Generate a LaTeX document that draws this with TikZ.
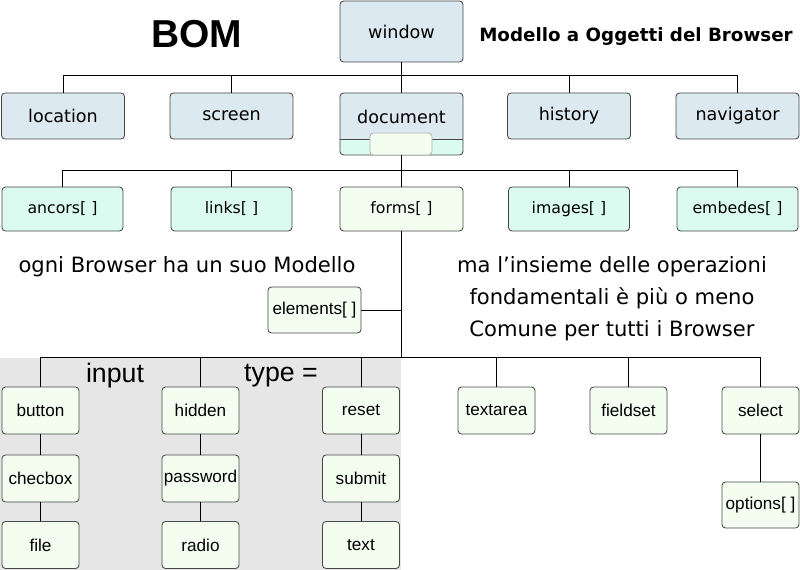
\documentclass[tikz,border=0pt]{standalone}
\usepackage{fontspec}
\setmainfont{Liberation Sans}
\newfontfamily\dejavu{DejaVu Sans}
\definecolor{bordo}{RGB}{70,70,70}
\definecolor{azzurro}{RGB}{221,233,241}
\definecolor{acqua}{RGB}{220,251,240}
\definecolor{verdino}{RGB}{244,254,240}
\definecolor{grigio}{RGB}{230,230,230}
\newcommand{\pxu}{0.025cm}
\tikzset{
    box/.style={draw=bordo, line width=0.6pt, rounded corners=2.5pt, inner sep=0pt, minimum height=46*\pxu},
    obj/.style={box, fill=azzurro, minimum width=123*\pxu, font=\dejavu\fontsize{12.5}{14}\selectfont},
    coll/.style={box, fill=acqua, minimum width=121*\pxu, minimum height=44*\pxu, font=\dejavu\fontsize{11.2}{13}\selectfont},
    elem/.style={box, fill=verdino, minimum width=77*\pxu, minimum height=47*\pxu, font=\fontsize{12.2}{14}\selectfont},
    nota/.style={font=\dejavu\fontsize{15}{22.7}\selectfont, align=center},
    linea/.style={draw=black, line width=0.7pt},
}
\begin{document}
\begin{tikzpicture}[x=\pxu, y=-\pxu]
        %sfondo
        \useasboundingbox (0,0) rectangle (800,570);
        \fill[grigio] (0,358) rectangle (401,570);

        %titoli
        \node[font=\bfseries\fontsize{27.7}{30}\selectfont] (bom) at (197,34) {BOM};
        \node[font=\dejavu\bfseries\fontsize{13}{15}\selectfont] (titolo) at (636,37) {Modello a Oggetti del Browser};

        %window
        \node[obj, minimum height=61*\pxu] (window) at (401.5,31.5) {window};

        %livello 1
        \node[obj] (location) at (63,116) {location};
        \node[obj] (screen) at (231.5,116) {screen};
        \node[obj, minimum height=62*\pxu, text height=9pt, text depth=9pt,
            path picture={
                \fill[acqua] ([yshift=16*\pxu]path picture bounding box.south west) rectangle (path picture bounding box.south east);
                \draw[bordo, line width=0.6pt] ([yshift=16*\pxu]path picture bounding box.south west) -- ([yshift=16*\pxu]path picture bounding box.south east);
            }] (document) at (401.5,124) {document};
        \node[box, fill=verdino, draw=gray!60, minimum width=62*\pxu, minimum height=22*\pxu] (docbox) at (401,144) {};
        \node[obj] (history) at (569,116) {history};
        \node[obj] (navigator) at (737.5,116) {navigator};

        %livello 2
        \node[coll] (ancors) at (62.5,209) {ancors[ ]};
        \node[coll] (links) at (231.5,209) {links[ ]};
        \node[coll, fill=verdino, minimum width=123*\pxu] (forms) at (401.5,209) {forms[ ]};
        \node[coll] (images) at (569,209) {images[ ]};
        \node[coll] (embedes) at (737.5,209) {embedes[ ]};

        %note
        \node[nota] (nota1) at (187,267) {ogni Browser ha un suo Modello};
        \node[nota] (nota2) at (612,299) {ma l’insieme delle operazioni\\fondamentali è più o meno\\Comune per tutti i Browser};

        %elements
        \node[elem, minimum width=93*\pxu, minimum height=46*\pxu] (elements) at (314.5,310) {elements[ ]};

        %input type =
        \node[font=\fontsize{19}{21}\selectfont] (input) at (115,376) {input};
        \node[font=\fontsize{19}{21}\selectfont] (type) at (281,376) {type =};

        %livello 3
        \node[elem] (button) at (40.5,410.5) {button};
        \node[elem] (checbox) at (40.5,478.5) {checbox};
        \node[elem] (file) at (40.5,545) {file};
        \node[elem] (hidden) at (200.5,410.5) {hidden};
        \node[elem] (password) at (200.5,478.5) {password};
        \node[elem] (radio) at (200.5,545) {radio};
        \node[elem] (reset) at (361,410.5) {reset};
        \node[elem] (submit) at (361,478.5) {submit};
        \node[elem] (textin) at (361,545) {text};
        \node[elem] (textarea) at (496.5,410.5) {textarea};
        \node[elem] (fieldset) at (628.5,410.5) {fieldset};
        \node[elem] (select) at (760.5,410.5) {select};
        \node[elem, minimum height=46*\pxu] (options) at (760.5,505) {options[ ]};

        %collegamenti
        \coordinate (bus1) at (401.5,75);
        \coordinate (bus2) at (401.5,170);
        \coordinate (bus3) at (401.5,357);
        \coordinate (elemjoin) at (401.5,310);
        \draw[linea] (window) -- (bus1);
        \foreach \n in {location,screen,document,history,navigator}
            \draw[linea] (\n.north) |- (bus1);
        \draw[linea] (document) -- (bus2);
        \foreach \n in {ancors,links,forms,images,embedes}
            \draw[linea] (\n.north) |- (bus2);
        \draw[linea] (forms) -- (bus3);
        \draw[linea] (elements) -- (elemjoin);
        \foreach \n in {button,hidden,reset,textarea,fieldset,select}
            \draw[linea] (\n.north) |- (bus3);
        \draw[linea] (button) -- (checbox);
        \draw[linea] (checbox) -- (file);
        \draw[linea] (hidden) -- (password);
        \draw[linea] (password) -- (radio);
        \draw[linea] (reset) -- (submit);
        \draw[linea] (submit) -- (textin);
        \draw[linea] (select) -- (options);

    \end{tikzpicture}
\end{document}
